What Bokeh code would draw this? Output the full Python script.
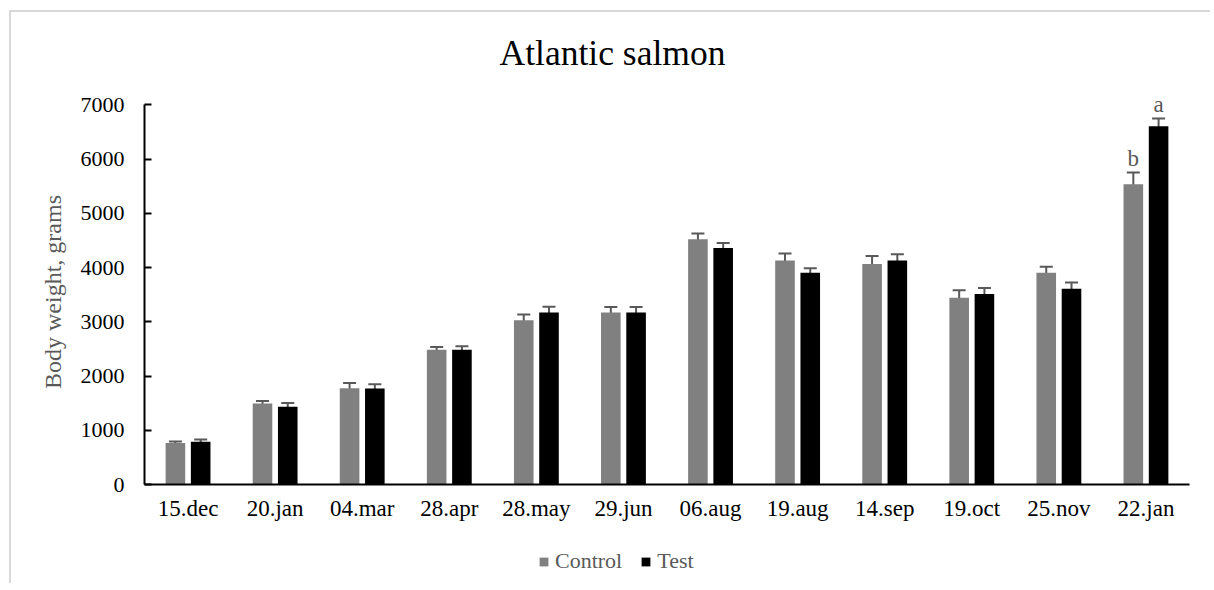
from bokeh.plotting import figure
from bokeh.layouts import column
from bokeh.models import ColumnDataSource, Range1d, FactorRange, Whisker, TeeHead, Legend, LegendItem, Label
from bokeh.transform import dodge
from bokeh.core.properties import value
from bokeh.embed import file_html
from bokeh.resources import INLINE

TITLE = "Atlantic salmon"
categories = ["15.dec", "20.jan", "04.mar", "28.apr", "28.may", "29.jun",
              "06.aug", "19.aug", "14.sep", "19.oct", "25.nov", "22.jan"]
control = [765, 1495, 1775, 2485, 3030, 3170, 4525, 4130, 4065, 3445, 3905, 5535]
control_err = [30, 45, 95, 50, 105, 105, 105, 130, 150, 135, 110, 220]
test = [790, 1435, 1770, 2485, 3170, 3170, 4360, 3905, 4130, 3515, 3610, 6605]
test_err = [40, 70, 80, 65, 110, 105, 95, 85, 115, 110, 115, 145]
control_sig = [""] * 11 + ["b"]
test_sig = [""] * 11 + ["a"]

FONT = "Liberation Serif"
GREY_TXT = "#595959"
GREY_BAR = "#808080"
FRAME = "2px solid #d9d9d9"

src = ColumnDataSource(dict(
    x=categories,
    control=control,
    control_up=[v + e for v, e in zip(control, control_err)],
    control_lo=[v - e for v, e in zip(control, control_err)],
    test=test,
    test_up=[v + e for v, e in zip(test, test_err)],
    test_lo=[v - e for v, e in zip(test, test_err)],
    control_sig=control_sig,
    test_sig=test_sig,
))

W = 1201
LB, RB = 133, W - 133 - 1045


def strip(height, top_margin=0, top_border=False):
    f = figure(x_range=FactorRange(*categories, range_padding=0, factor_padding=0),
               y_range=Range1d(0, height), width=W, height=height,
               output_backend="svg", toolbar_location=None,
               min_border_left=LB, min_border_right=RB, min_border_top=0, min_border_bottom=0)
    f.axis.visible = False
    f.grid.visible = False
    f.outline_line_color = None
    f.border_fill_color = "white"
    f.background_fill_color = "white"
    f.margin = (top_margin, 0, 0, 9)
    st = {"border-left": FRAME}
    if top_border:
        st["border-top"] = FRAME
    f.styles = st
    return f


# title strip
tp = strip(70, top_margin=10, top_border=True)
tp.add_layout(Label(x=(612 - 144) / 1045 * len(categories), y=10, text=TITLE,
                    text_font=FONT, text_font_size="35.5px", text_color="black",
                    text_align="center", text_baseline="bottom"))

# main chart
p = figure(x_range=FactorRange(*categories, range_padding=0, factor_padding=0), y_range=Range1d(0, 7100),
           width=W, height=448, output_backend="svg", toolbar_location=None,
           min_border_left=LB, min_border_right=RB, min_border_top=19, min_border_bottom=44)
p.outline_line_color = None
p.grid.visible = False
p.background_fill_color = "white"
p.border_fill_color = "white"
p.margin = (0, 0, 0, 9)
p.styles = {"border-left": FRAME}

off = 0.145
w = 0.225
p.vbar(x=dodge("x", -off, range=p.x_range), top="control", width=w, source=src,
       fill_color=GREY_BAR, line_color=None)
p.vbar(x=dodge("x", off, range=p.x_range), top="test", width=w, source=src,
       fill_color="#000000", line_color=None)

for key, o in (("control", -off), ("test", off)):
    wk = Whisker(base=dodge("x", o, range=p.x_range), upper=key + "_up", lower=key + "_lo",
                 source=src, line_color=GREY_TXT, line_width=2,
                 upper_head=TeeHead(size=13, line_color=GREY_TXT, line_width=2),
                 lower_head=TeeHead(size=13, line_color=GREY_TXT, line_width=2))
    p.add_layout(wk)
    p.text(x=dodge("x", o, range=p.x_range), y=key + "_up", text=key + "_sig", source=src,
           text_font=value(FONT), text_font_size="23px", text_color=GREY_TXT,
           text_align="center", text_baseline="bottom", y_offset=-1)

p.yaxis.ticker = list(range(0, 7001, 1000))
p.yaxis.bounds = (0, 7000)
p.yaxis.major_tick_in = 7
p.yaxis.major_tick_out = 0
p.yaxis.minor_tick_line_color = None
p.yaxis.axis_line_width = 2
p.yaxis.major_tick_line_width = 2
p.yaxis.major_label_text_font = FONT
p.yaxis.major_label_text_font_size = "22px"
p.yaxis.major_label_text_color = "black"
p.yaxis.major_label_standoff = 20
p.yaxis.axis_label = "Body weight, grams"
p.yaxis.axis_label_text_font = FONT
p.yaxis.axis_label_text_font_size = "24px"
p.yaxis.axis_label_text_font_style = "normal"
p.yaxis.axis_label_text_color = GREY_TXT
p.yaxis.axis_label_standoff = 12

p.xaxis.major_tick_line_color = None
p.xaxis.major_tick_out = 0
p.xaxis.major_tick_in = 0
p.xaxis.axis_line_width = 2
p.xaxis.major_label_text_font = FONT
p.xaxis.major_label_text_font_size = "23px"
p.xaxis.major_label_text_color = "black"
p.xaxis.major_label_standoff = 11

# legend strip below the chart (its legend renderers have zero size)
lg = strip(55)
l1 = lg.vbar(x="x", top="control", bottom="control", width=0, source=src,
             fill_color=GREY_BAR, line_color=None)
l2 = lg.vbar(x="x", top="test", bottom="test", width=0, source=src,
             fill_color="#000000", line_color=None)
legend = Legend(items=[LegendItem(label="Control", renderers=[l1]),
                       LegendItem(label="Test", renderers=[l2])],
                orientation="horizontal", location=(394, 9),
                label_text_font=FONT, label_text_font_size="22px", label_text_color=GREY_TXT,
                glyph_width=11, glyph_height=11, label_standoff=6, spacing=18,
                border_line_color=None, background_fill_alpha=0, padding=0, margin=0)
lg.add_layout(legend)

layout = column(tp, p, lg, spacing=0)
open("out.html", "w").write(file_html(layout, INLINE))
